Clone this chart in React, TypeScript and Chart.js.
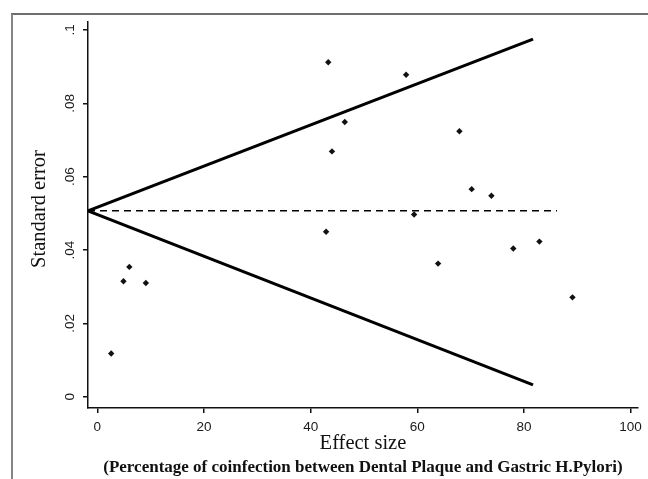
import React, { useEffect, useRef } from "react";
import { Chart, registerables } from "chart.js";

Chart.register(...registerables);

// ---- data ----
const effectSize = [2.6, 4.9, 6.0, 9.1, 42.9, 43.3, 44.0, 46.4, 57.9, 59.4, 63.9, 67.9, 70.2, 73.9, 78.0, 82.9, 89.1];
const standardError = [0.0118, 0.0315, 0.0354, 0.031, 0.045, 0.0912, 0.0669, 0.0749, 0.0878, 0.0497, 0.0363, 0.0724, 0.0566, 0.0548, 0.0404, 0.0423, 0.0271];

const upperLimitX = [-1.75, 81.7];
const upperLimitY = [0.0507, 0.0975];
const lowerLimitX = [-1.75, 81.7];
const lowerLimitY = [0.0507, 0.0032];
const pooledX = [-1.75, 86.2];
const pooledY = [0.0507, 0.0507];

const xTickValues = [0, 20, 40, 60, 80, 100];
const yTickValues = [0, 0.02, 0.04, 0.06, 0.08, 0.1];
const yTickLabels = ["0", ".02", ".04", ".06", ".08", ".1"];

const xTitle = "Effect size";
const xSubtitle = "(Percentage of coinfection between Dental Plaque and Gastric H.Pylori)";
const yTitle = "Standard error";

const SANS = "'Liberation Sans', Arial, sans-serif";
const SERIF = "'Liberation Serif', 'Times New Roman', serif";

const zip = (xs: number[], ys: number[]) => xs.map((x, i) => ({ x, y: ys[i] }));

const textPlugin = {
  id: "customText",
  afterDraw(chart: any) {
    const { ctx } = chart;
    const yScale = chart.scales.y;
    ctx.save();
    ctx.fillStyle = "#1a1a1a";
    // rotated y tick labels
    ctx.font = `13.5px ${SANS}`;
    ctx.textAlign = "center";
    ctx.textBaseline = "alphabetic";
    yTickValues.forEach((v, i) => {
      const py = yScale.getPixelForValue(v);
      ctx.save();
      ctx.translate(73.5, py);
      ctx.rotate(-Math.PI / 2);
      ctx.fillText(yTickLabels[i], 0, 0);
      ctx.restore();
    });
    // y title
    ctx.fillStyle = "#111";
    ctx.font = `20.5px ${SERIF}`;
    ctx.save();
    ctx.translate(45, 209);
    ctx.rotate(-Math.PI / 2);
    ctx.fillText(yTitle, 0, 0);
    ctx.restore();
    // subtitle
    ctx.font = `bold 17px ${SERIF}`;
    ctx.fillText(xSubtitle, 363, 472);
    ctx.restore();
  },
};

export default function App() {
  const ref = useRef<HTMLCanvasElement>(null);
  useEffect(() => {
    if (!ref.current) return;
    const chart = new Chart(ref.current, {
      type: "scatter",
      data: {
        datasets: [
          {
            label: "Studies",
            data: zip(effectSize, standardError),
            pointStyle: "rectRot",
            pointRadius: 3.2,
            pointBackgroundColor: "#111",
            pointBorderWidth: 0,
            showLine: false,
          },
          {
            label: "Upper limit",
            data: zip(upperLimitX, upperLimitY),
            showLine: true,
            borderColor: "#000",
            borderWidth: 3,
            pointRadius: 0,
          },
          {
            label: "Lower limit",
            data: zip(lowerLimitX, lowerLimitY),
            showLine: true,
            borderColor: "#000",
            borderWidth: 3,
            pointRadius: 0,
          },
          {
            label: "Pooled",
            data: zip(pooledX, pooledY),
            showLine: true,
            borderColor: "#000",
            borderWidth: 1.6,
            borderDash: [7, 5],
            pointRadius: 0,
          },
        ],
      },
      options: {
        responsive: false,
        animation: false,
        layout: { padding: { left: 0, top: 22, right: 10, bottom: 0 } },
        plugins: { legend: { display: false }, tooltip: { enabled: false }, title: { display: false } },
        scales: {
          x: {
            type: "linear",
            min: -1.75,
            max: 101.37,
            afterFit: (s: any) => { s.height = 71; },
            afterBuildTicks: (s: any) => { s.ticks = xTickValues.map((v) => ({ value: v })); },
            border: { display: true, color: "#111", width: 1.5 },
            grid: { drawOnChartArea: false, drawTicks: true, tickLength: 5, color: "#111", lineWidth: 1.5 },
            ticks: { font: { family: SANS, size: 13.5 }, color: "#1a1a1a", padding: 6, maxRotation: 0, autoSkip: false },
            title: { display: true, text: xTitle, font: { family: SERIF, size: 20.5 }, color: "#111", padding: { top: 0, bottom: 23 } },
          },
          y: {
            type: "linear",
            min: -0.00308,
            max: 0.10218,
            afterFit: (s: any) => { s.width = 88; },
            afterBuildTicks: (s: any) => { s.ticks = yTickValues.map((v) => ({ value: v })); },
            border: { display: true, color: "#111", width: 1.5 },
            grid: { drawOnChartArea: false, drawTicks: true, tickLength: 5, color: "#111", lineWidth: 1.5 },
            ticks: { display: false },
          },
        },
      },
      plugins: [textPlugin],
    });
    return () => chart.destroy();
  }, []);

  return (
    <div style={{ position: "fixed", left: 0, top: 0, width: 648, height: 479, background: "#fff", overflow: "hidden" }}>
      <div style={{ position: "absolute", left: 11, top: 13, width: 700, height: 600, borderLeft: "2px solid #858585", borderTop: "2px solid #6e6e6e" }} />
      <canvas ref={ref} width={648} height={479} style={{ position: "absolute", left: 0, top: 0, width: 648, height: 479 }} />
    </div>
  );
}
